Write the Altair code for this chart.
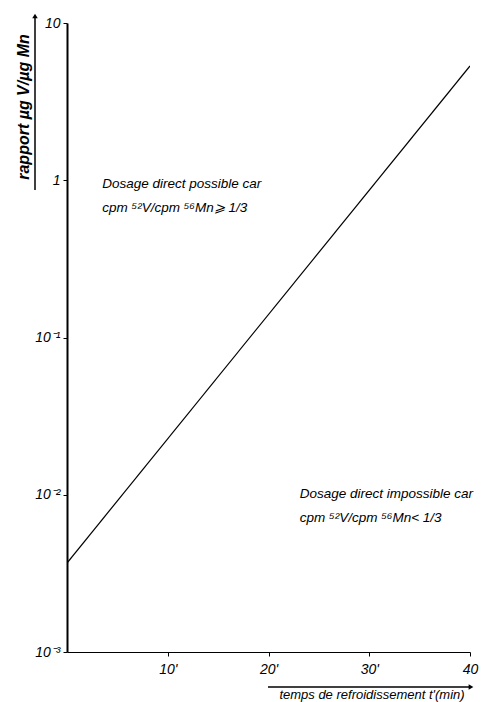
import json
import altair as alt
import pandas as pd

# ---- data ----
t_min = [0, 40]
ratio = [0.00368, 5.33]

x_ticks = [10, 20, 30, 40]
x_tick_labels = ["10'", "20'", "30'", "40"]
y_ticks = [0.001, 0.01, 0.1, 1, 10]
y_tick_labels = ["10⁻³", "10⁻²", "10⁻¹", "1", "10"]

ann_text = [
    "Dosage direct possible car",
    "cpm ⁵²V/cpm ⁵⁶Mn⩾ 1/3",
    "Dosage direct impossible car",
    "cpm ⁵²V/cpm ⁵⁶Mn< 1/3",
]
ann_t = [3.5, 3.5, 23.1, 23.1]
ann_r = [0.95, 0.665, 0.0101, 0.0071]

y_title = "rapport µg V/µg Mn"
x_title = "temps de refroidissement t'(min)"

FONT = "Liberation Sans"

line_df = pd.DataFrame({"t": t_min, "r": ratio})
ann_df = pd.DataFrame({"t": ann_t, "r": ann_r, "txt": ann_text})

x_scale = alt.Scale(domain=[0, 40], nice=False, zero=False)
y_scale = alt.Scale(type="log", domain=[0.001, 10], nice=False)

x_expr = f"{json.dumps(x_tick_labels, ensure_ascii=False)}[indexof({json.dumps(x_ticks)}, datum.value)]"
y_expr = f"{json.dumps(y_tick_labels, ensure_ascii=False)}[indexof({json.dumps(y_ticks)}, datum.value)]"

x_axis = alt.Axis(
    values=x_ticks, labelExpr=x_expr, title=None, grid=False,
    domainColor="black", domainWidth=1.2, tickColor="black", tickSize=4,
    labelFont=FONT, labelFontStyle="italic", labelFontSize=14, labelColor="black",
    labelPadding=6, labelFlush=False,
)
y_axis = alt.Axis(
    values=y_ticks, labelExpr=y_expr, title=None, grid=False,
    domainColor="black", domainWidth=2, tickColor="black", tickSize=4,
    labelFont=FONT, labelFontStyle="italic", labelFontSize=14, labelColor="black",
    labelPadding=3, labelFlush=False,
)

line = alt.Chart(line_df).mark_line(color="black", strokeWidth=1.2, clip=True).encode(
    x=alt.X("t:Q", scale=x_scale, axis=x_axis),
    y=alt.Y("r:Q", scale=y_scale, axis=y_axis),
)

ann = alt.Chart(ann_df).mark_text(
    align="left", baseline="middle", font=FONT, fontStyle="italic",
    fontSize=13.5, color="black",
).encode(x="t:Q", y="r:Q", text="txt:N")

ytitle = alt.Chart(pd.DataFrame({"s": [y_title]})).mark_text(
    angle=270, align="center", baseline="middle", font=FONT,
    fontStyle="italic", fontWeight="bold", fontSize=16, color="black",
).encode(x=alt.value(-43), y=alt.value(84), text="s:N")

yarrow = alt.Chart(pd.DataFrame({"a": [0]})).mark_rule(color="black", strokeWidth=1.5).encode(
    x=alt.value(-32), y=alt.value(-5), y2=alt.value(167)
)
yhead = alt.Chart(pd.DataFrame({"a": [0]})).mark_point(
    shape="triangle-up", filled=True, color="black", size=30, opacity=1
).encode(x=alt.value(-32), y=alt.value(-7))

xtitle = alt.Chart(pd.DataFrame({"s": [x_title]})).mark_text(
    align="center", baseline="bottom", font=FONT, fontStyle="italic",
    fontSize=13, color="black",
).encode(x=alt.value(305), y=alt.value(679), text="s:N")

xarrow = alt.Chart(pd.DataFrame({"a": [0]})).mark_rule(color="black", strokeWidth=1.5).encode(
    x=alt.value(201), x2=alt.value(402), y=alt.value(664)
)
xhead = alt.Chart(pd.DataFrame({"a": [0]})).mark_point(
    shape="triangle-right", filled=True, color="black", size=30, opacity=1
).encode(x=alt.value(404), y=alt.value(664))

chart = alt.layer(line, ann, ytitle, yarrow, yhead, xtitle, xarrow, xhead).properties(
    width=403,
    height=629,
    autosize="none",
    padding={"left": 67, "top": 23, "right": 12, "bottom": 50},
    background="white",
).configure_view(stroke=None)

chart.save("out.html", embed_options={"renderer": "svg", "actions": False})
